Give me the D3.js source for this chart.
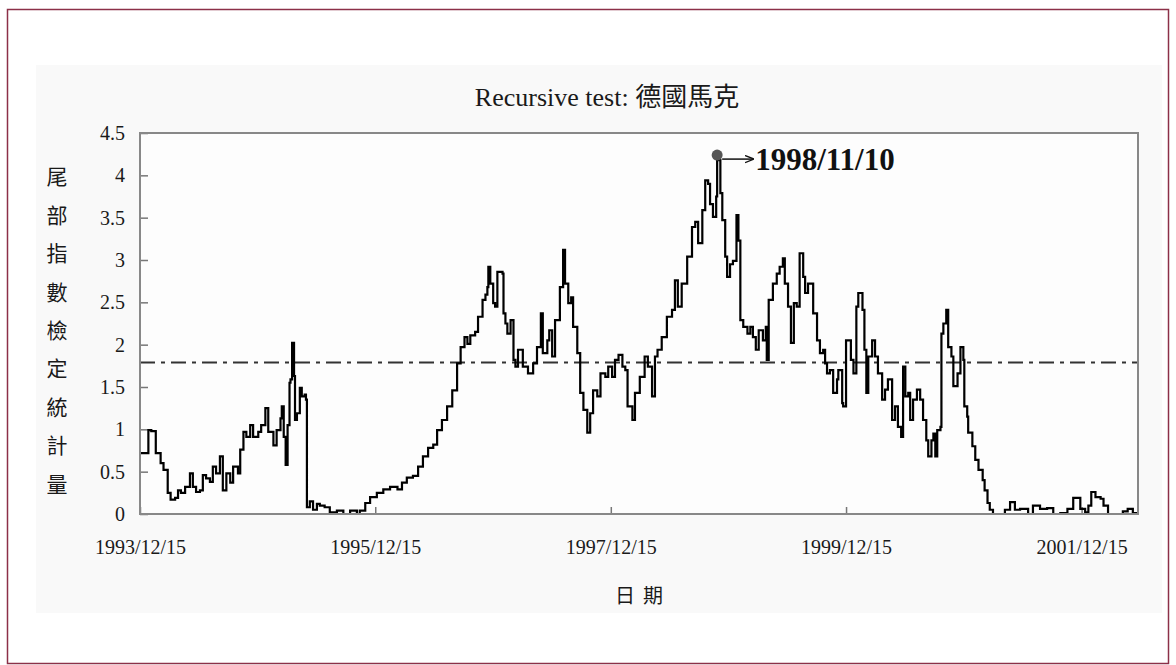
<!DOCTYPE html>
<html>
<head>
<meta charset="utf-8">
<script src="https://cdn.jsdelivr.net/npm/d3@7"></script>
<style>
  html, body { margin: 0; padding: 0; background: #ffffff; }
  svg { display: block; }
  .serif { font-family: "Liberation Serif", "Times New Roman", serif; }
  .cjk { font-family: "Noto Sans CJK TC", "Noto Sans CJK SC", sans-serif; }
</style>
</head>
<body>
<svg id="chart" width="1176" height="665"></svg>
<script>
// Recursive tail-index test statistic for the Deutsche Mark
const dates = [
  "1993-12-15","1994-01-10","1994-01-19","1994-02-02","1994-02-17","1994-02-26","1994-03-11","1994-03-20",
  "1994-04-03","1994-04-12","1994-04-21","1994-05-04","1994-05-19","1994-05-28","1994-06-07","1994-06-19",
  "1994-06-28","1994-07-08","1994-07-20","1994-07-29","1994-08-08","1994-08-20","1994-08-29","1994-09-09",
  "1994-09-21","1994-09-30","1994-10-15","1994-10-22","1994-11-01","1994-11-10","1994-11-22","1994-12-01",
  "1994-12-17","1994-12-26","1995-01-08","1995-01-17","1995-02-02","1995-02-12","1995-02-24","1995-02-28",
  "1995-03-06","1995-03-12","1995-03-18","1995-03-24","1995-03-27","1995-04-01","1995-04-07","1995-04-10",
  "1995-04-16","1995-04-25","1995-05-01","1995-05-10","1995-05-14","1995-05-17","1995-05-26","1995-06-05",
  "1995-06-17","1995-06-26","1995-07-11","1995-07-27","1995-08-18","1995-09-07","1995-09-28","1995-10-19",
  "1995-10-28","1995-11-14","1995-11-29","1995-12-20","1996-01-09","1996-01-30","1996-02-22","1996-03-07",
  "1996-03-22","1996-04-10","1996-04-26","1996-05-11","1996-05-27","1996-06-12","1996-06-24","1996-07-09",
  "1996-07-25","1996-08-10","1996-08-25","1996-09-05","1996-09-17","1996-09-26","1996-10-05","1996-10-20",
  "1996-10-29","1996-11-12","1996-11-21","1996-11-27","1996-11-30","1996-12-06","1996-12-15","1996-12-21",
  "1996-12-28","1997-01-07","1997-01-13","1997-01-16","1997-01-22","1997-01-28","1997-02-07","1997-02-16",
  "1997-02-22","1997-03-02","1997-03-17","1997-04-02","1997-04-18","1997-04-30","1997-05-12","1997-05-18",
  "1997-06-01","1997-06-07","1997-06-16","1997-06-25","1997-07-10","1997-07-20","1997-07-26","1997-08-05",
  "1997-08-14","1997-08-20","1997-09-02","1997-09-11","1997-09-21","1997-10-03","1997-10-12","1997-10-21",
  "1997-11-03","1997-11-13","1997-11-28","1997-12-07","1997-12-19","1997-12-28","1998-01-08","1998-01-20",
  "1998-01-29","1998-02-05","1998-02-20","1998-02-28","1998-03-15","1998-03-30","1998-04-09","1998-04-22",
  "1998-05-01","1998-05-09","1998-05-22","1998-06-07","1998-06-23","1998-07-02","1998-07-11","1998-07-23",
  "1998-08-09","1998-08-24","1998-09-03","1998-09-12","1998-09-25","1998-10-04","1998-10-13","1998-10-19",
  "1998-10-28","1998-11-07","1998-11-10","1998-11-20","1998-11-26","1998-12-05","1998-12-11","1998-12-20",
  "1998-12-29","1999-01-09","1999-01-15","1999-01-21","1999-01-30","1999-02-12","1999-02-21","1999-03-01",
  "1999-03-10","1999-03-19","1999-04-01","1999-04-10","1999-04-13","1999-04-19","1999-05-02","1999-05-14",
  "1999-05-23","1999-06-02","1999-06-08","1999-06-18","1999-06-27","1999-07-06","1999-07-15","1999-07-24",
  "1999-08-04","1999-08-10","1999-08-19","1999-08-28","1999-09-04","1999-09-16","1999-09-25","1999-10-05",
  "1999-10-11","1999-10-17","1999-10-26","1999-11-05","1999-11-17","1999-11-21","1999-12-03","1999-12-06",
  "1999-12-15","1999-12-21","1999-12-30","2000-01-07","2000-01-16","2000-01-22","2000-02-04","2000-02-10",
  "2000-02-16","2000-02-22","2000-03-05","2000-03-14","2000-03-23","2000-04-05","2000-04-14","2000-04-23",
  "2000-05-06","2000-05-15","2000-05-24","2000-06-03","2000-06-09","2000-06-16","2000-06-25","2000-07-01",
  "2000-07-10","2000-07-22","2000-08-01","2000-08-10","2000-08-20","2000-08-26","2000-09-05","2000-09-11",
  "2000-09-17","2000-09-23","2000-10-03","2000-10-06","2000-10-12","2000-10-21","2000-10-27","2000-11-06",
  "2000-11-12","2000-11-25","2000-12-04","2000-12-13","2000-12-16","2000-12-25","2000-12-28","2001-01-10",
  "2001-01-19","2001-01-29","2001-02-11","2001-02-17","2001-02-26","2001-03-05","2001-03-15","2001-04-06",
  "2001-04-21","2001-05-07","2001-05-22","2001-06-07","2001-07-02","2001-07-17","2001-08-08","2001-08-30",
  "2001-09-18","2001-10-10","2001-11-01","2001-11-19","2001-12-11","2001-12-26","2002-01-05","2002-01-14",
  "2002-01-27","2002-02-12","2002-02-21","2002-03-07","2002-04-04","2002-04-22","2002-05-07","2002-05-23",
  "2002-06-05"
];

const values = [
  0.72,0.99,0.98,0.72,0.60,0.52,0.25,0.17,
  0.19,0.28,0.25,0.32,0.48,0.32,0.26,0.28,
  0.46,0.42,0.38,0.56,0.48,0.68,0.28,0.48,
  0.37,0.56,0.48,0.76,0.97,0.91,1.05,0.91,
  0.97,1.05,1.25,0.97,0.81,0.99,1.13,1.27,
  0.91,0.58,1.05,1.55,1.59,2.02,1.63,1.11,
  1.19,1.49,1.39,1.41,1.35,0.08,0.15,0.05,
  0.12,0.10,0.08,0.02,0.04,0.00,0.04,0.00,
  0.04,0.13,0.20,0.25,0.29,0.32,0.29,0.37,
  0.43,0.45,0.56,0.68,0.78,0.82,0.99,1.11,
  1.27,1.46,1.78,1.97,2.09,2.01,2.11,2.15,
  2.33,2.53,2.59,2.68,2.92,2.72,2.49,2.45,
  2.86,2.86,2.84,2.37,2.25,2.13,2.29,1.82,
  1.74,1.94,1.74,1.66,1.78,1.97,2.37,1.90,
  2.05,2.17,1.86,2.29,2.68,3.12,2.72,2.49,
  2.56,2.21,1.90,1.43,1.23,0.96,1.19,1.46,
  1.39,1.66,1.62,1.74,1.62,1.82,1.88,1.74,
  1.70,1.27,1.11,1.43,1.62,1.86,1.74,1.39,
  1.86,1.94,2.09,2.33,2.41,2.76,2.45,2.72,
  3.04,3.39,3.45,3.20,3.59,3.94,3.90,3.66,
  3.51,3.75,4.18,3.79,3.47,3.04,2.80,2.95,
  2.99,3.53,3.23,2.29,2.21,2.13,2.21,2.09,
  1.94,2.17,2.05,2.21,1.82,2.53,2.72,2.84,
  2.92,3.02,2.72,2.45,2.02,2.49,2.45,3.08,
  2.80,2.61,2.72,2.72,2.37,2.05,1.90,1.94,
  1.78,1.66,1.70,1.43,1.59,1.70,1.31,1.27,
  2.05,2.05,1.82,1.66,2.45,2.61,2.41,1.94,
  1.43,1.86,2.05,1.86,1.66,1.35,1.47,1.59,
  1.11,1.27,1.03,0.91,1.74,1.39,1.43,1.11,
  1.35,1.47,1.35,1.11,0.87,0.68,0.87,0.95,
  0.68,0.99,1.03,2.13,2.25,2.41,1.97,1.86,
  1.51,1.66,1.97,1.82,1.27,1.15,0.96,0.80,
  0.64,0.52,0.40,0.28,0.13,0.05,0.00,0.00,
  0.05,0.14,0.05,0.06,0.00,0.10,0.06,0.07,
  0.00,0.01,0.06,0.19,0.06,0.02,0.10,0.26,
  0.20,0.18,0.10,0.00,0.00,0.03,0.06,0.01,
  0.00
];

const xTickLabels = ["1993/12/15","1995/12/15","1997/12/15","1999/12/15","2001/12/15"];
const yTicks = [0, 0.5, 1, 1.5, 2, 2.5, 3, 3.5, 4, 4.5];
const xDomain = ["1993-12-15", "2002-06-08"];
const yDomain = [0, 4.5];
const criticalValue = [1.79];
const peakDate = ["1998-11-10"];
const titleText = "Recursive test: 德國馬克";
const yAxisTitle = "尾部指數檢定統計量";
const xAxisTitle = "日期";

const parseISO = d3.timeParse("%Y-%m-%d");
const parseLabel = d3.timeParse("%Y/%m/%d");
const formatLabel = d3.timeFormat("%Y/%m/%d");

const series = dates.map((d, i) => ({ date: parseISO(d), value: values[i] }));

const svg = d3.select("#chart");
const W = 1176, H = 665;
const plot = { left: 140, right: 1138, top: 133, bottom: 514 };

// page frame and chart-area panel
svg.append("rect").attr("x", 0).attr("y", 0).attr("width", W).attr("height", H).attr("fill", "#ffffff");
svg.append("rect")
  .attr("x", 7.5).attr("y", 9.5).attr("width", 1161).attr("height", 654)
  .attr("fill", "#ffffff").attr("stroke", "#8c3048").attr("stroke-width", 1.5);
svg.append("rect")
  .attr("x", 36).attr("y", 65).attr("width", 1126).attr("height", 548)
  .attr("fill", "#f9f9f9");

const x = d3.scaleTime()
  .domain(xDomain.map(parseISO))
  .range([plot.left, plot.right]);
const y = d3.scaleLinear()
  .domain(yDomain)
  .range([plot.bottom, plot.top]);

// plot area
svg.append("rect")
  .attr("x", plot.left).attr("y", plot.top)
  .attr("width", plot.right - plot.left).attr("height", plot.bottom - plot.top)
  .attr("fill", "#fdfdfd");

// y axis: ticks point into the plot
const yAxis = d3.axisLeft(y).tickValues(yTicks).tickSize(-8).tickPadding(15)
  .tickFormat(d => String(d));
const gy = svg.append("g").attr("transform", `translate(${plot.left},0)`).call(yAxis);
gy.select(".domain").remove();
gy.selectAll(".tick line").attr("stroke", "#777").attr("stroke-width", 1.5);
gy.selectAll(".tick text")
  .attr("class", "serif").attr("fill", "#1a1a1a")
  .style("font-size", "20px").attr("text-anchor", "end");

// x axis
const xAxis = d3.axisBottom(x)
  .tickValues(xTickLabels.map(parseLabel))
  .tickSize(-7).tickPadding(26)
  .tickFormat(formatLabel);
const gx = svg.append("g").attr("transform", `translate(0,${plot.bottom})`).call(xAxis);
gx.select(".domain").remove();
gx.selectAll(".tick line").attr("stroke", "#777").attr("stroke-width", 1.5);
gx.selectAll(".tick text")
  .attr("class", "serif").attr("fill", "#1a1a1a")
  .style("font-size", "20px");

// critical value line (dash-dot)
svg.selectAll("line.crit").data(criticalValue).enter().append("line")
  .attr("class", "crit")
  .attr("x1", plot.left).attr("x2", plot.right)
  .attr("y1", d => y(d)).attr("y2", d => y(d))
  .attr("stroke", "#333").attr("stroke-width", 2)
  .attr("stroke-dasharray", "15,6,4,6");

// statistic series, held between observations
const line = d3.line().curve(d3.curveStepAfter).x(d => x(d.date)).y(d => y(d.value));
svg.append("path").datum(series)
  .attr("d", line)
  .attr("fill", "none").attr("stroke", "#000")
  .attr("stroke-width", 2.2).attr("stroke-linejoin", "miter");

// plot border
svg.append("rect")
  .attr("x", plot.left).attr("y", plot.top)
  .attr("width", plot.right - plot.left).attr("height", plot.bottom - plot.top)
  .attr("fill", "none").attr("stroke", "#888").attr("stroke-width", 2);

// peak marker and annotation
const peak = series.find(d => formatLabel(d.date) === formatLabel(parseISO(peakDate[0])));
const px = x(peak.date), py = y(peak.value) - 5;
svg.append("defs").append("marker")
  .attr("id", "arrowhead").attr("viewBox", "0 0 10 10")
  .attr("refX", 9).attr("refY", 5)
  .attr("markerWidth", 9).attr("markerHeight", 9)
  .attr("markerUnits", "userSpaceOnUse")
  .attr("orient", "auto")
  .append("path").attr("d", "M0,1 L10,5 L0,9").attr("fill", "none")
  .attr("stroke", "#111").attr("stroke-width", 1.5);
svg.append("circle").attr("cx", px).attr("cy", py).attr("r", 5.5).attr("fill", "#555");
svg.append("line")
  .attr("x1", px + 5).attr("y1", py + 4).attr("x2", px + 36).attr("y2", py + 4)
  .attr("stroke", "#111").attr("stroke-width", 1.5)
  .attr("marker-end", "url(#arrowhead)");
svg.append("text")
  .attr("class", "serif")
  .attr("x", px + 38).attr("y", py + 15)
  .attr("font-weight", "bold").style("font-size", "31px").attr("fill", "#111")
  .text(formatLabel(peak.date));

// title
svg.append("text")
  .attr("x", 607).attr("y", 106)
  .attr("text-anchor", "middle")
  .attr("fill", "#1a1a1a")
  .style("font-size", "26px")
  .style("font-family", "'Liberation Serif', 'Noto Sans CJK TC', serif")
  .text(titleText);

// vertical y-axis title, one character per row
svg.append("g").selectAll("text").data(Array.from(yAxisTitle)).enter().append("text")
  .attr("class", "cjk")
  .attr("x", 57).attr("y", (d, i) => 177 + i * 38.4)
  .attr("dy", "0.35em").attr("text-anchor", "middle")
  .style("font-size", "21px").attr("fill", "#1a1a1a")
  .text(d => d);

// x-axis title
svg.append("text")
  .attr("class", "cjk")
  .attr("x", (plot.left + plot.right) / 2 + 4).attr("y", 596)
  .attr("dy", "0.35em").attr("text-anchor", "middle")
  .style("font-size", "20px").style("letter-spacing", "8px").attr("fill", "#1a1a1a")
  .text(xAxisTitle);
</script>
</body>
</html>
